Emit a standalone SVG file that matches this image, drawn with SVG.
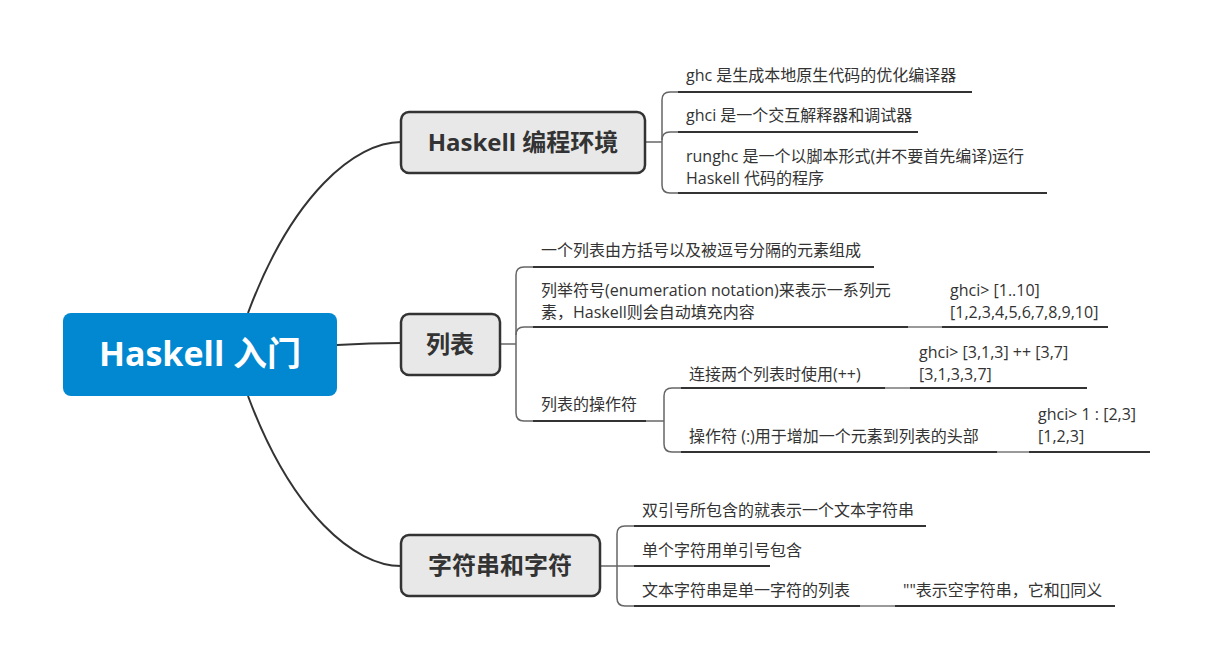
<svg xmlns="http://www.w3.org/2000/svg" width="1212" height="668" viewBox="0 0 1212 668">
<style>
.bg{fill:#ffffff}
.main{fill:#0288D1}
.mainT{font-family:"Open Sans","Noto Sans CJK SC",sans-serif;font-weight:bold;font-size:34px;fill:#ffffff;text-anchor:middle}
.box{fill:#E8E8E8;stroke:#333333;stroke-width:2.5}
.boxT{font-family:"Open Sans","Noto Sans CJK SC",sans-serif;font-weight:bold;font-size:24px;fill:#333333;text-anchor:middle}
.t{font-family:"Open Sans","Noto Sans CJK SC",sans-serif;font-size:16px;fill:#333333}
.ul{stroke:#333333;stroke-width:2;fill:none}
.c{stroke:#333333;stroke-width:2;fill:none}
.cs{stroke:#666666;stroke-width:1.5;fill:none}
.cg{stroke:#999999;stroke-width:2;fill:none}
</style>
<rect class="bg" x="0" y="0" width="1212" height="668"/>
<g id="connectors">
<path class="c" d="M 248 313 C 292 195, 355 142, 401 142"/>
<path class="c" d="M 248 396 C 292 514, 355 566, 401 566"/>
<path class="c" d="M 337 345 Q 370 343 401 343"/>
<!-- branch 1 -->
<path class="cs" d="M 645 142 L 662 142"/>
<path class="cs" d="M 678 92 L 670 92 Q 662 92 662 100 L 662 185 Q 662 193 670 193 L 678 193"/>
<path class="cs" d="M 678 132 L 670 132 Q 662 132 662 140"/>
<!-- branch 2 -->
<path class="cs" d="M 500 344 L 516 344"/>
<path class="cs" d="M 533 267 L 524 267 Q 516 267 516 275 L 516 413 Q 516 421 524 421 L 533 421"/>
<path class="cs" d="M 533 327 L 524 327 Q 516 327 516 335"/>
<path class="cs" d="M 646 421 L 664 421"/>
<path class="cs" d="M 681 388 L 672 388 Q 664 388 664 396 L 664 444 Q 664 452 672 452 L 681 452"/>
<path class="cg" d="M 908 327 L 942 327"/>
<path class="cg" d="M 885 388 L 910 388"/>
<path class="cg" d="M 997 452 L 1029 452"/>
<!-- branch 3 -->
<path class="cs" d="M 600 566 L 634 566"/>
<path class="cs" d="M 634 526 L 625 526 Q 617 526 617 534 L 617 598 Q 617 606 625 606 L 634 606"/>
<path class="cg" d="M 860 606 L 895 606"/>
</g>
<g id="root">
<rect class="main" x="63" y="313" width="274" height="83" rx="8"/>
<text class="mainT" x="200" y="366">Haskell 入门</text>
</g>
<g id="env">
<rect class="box" x="401" y="112" width="244" height="61" rx="8"/>
<text class="boxT" x="523" y="151">Haskell 编程环境</text>
</g>
<g id="env-ghc">
<text class="t" x="686" y="81">ghc 是生成本地原生代码的优化编译器</text>
<line class="ul" x1="678" y1="92" x2="972" y2="92"/>
</g>
<g id="env-ghci">
<text class="t" x="686" y="121">ghci 是一个交互解释器和调试器</text>
<line class="ul" x1="678" y1="132" x2="918" y2="132"/>
</g>
<g id="env-runghc">
<text class="t" x="686" y="162">runghc 是一个以脚本形式(并不要首先编译)运行</text>
<text class="t" x="686" y="184">Haskell 代码的程序</text>
<line class="ul" x1="678" y1="193" x2="1047" y2="193"/>
</g>
<g id="list">
<rect class="box" x="401" y="314" width="99" height="61" rx="8"/>
<text class="boxT" x="450" y="353">列表</text>
</g>
<g id="list-def">
<text class="t" x="541" y="256">一个列表由方括号以及被逗号分隔的元素组成</text>
<line class="ul" x1="533" y1="267" x2="874" y2="267"/>
</g>
<g id="list-enum">
<text class="t" x="541" y="296">列举符号(enumeration notation)来表示一系列元</text>
<text class="t" x="541" y="318">素，Haskell则会自动填充内容</text>
<line class="ul" x1="533" y1="327" x2="908" y2="327"/>
</g>
<g id="list-enum-ex">
<text class="t" x="950" y="296">ghci&gt; [1..10]</text>
<text class="t" x="950" y="318">[1,2,3,4,5,6,7,8,9,10]</text>
<line class="ul" x1="942" y1="327" x2="1108" y2="327"/>
</g>
<g id="list-ops">
<text class="t" x="541" y="410">列表的操作符</text>
<line class="ul" x1="533" y1="421" x2="646" y2="421"/>
</g>
<g id="list-ops-concat">
<text class="t" x="689" y="380">连接两个列表时使用(++)</text>
<line class="ul" x1="681" y1="388" x2="885" y2="388"/>
</g>
<g id="list-ops-concat-ex">
<text class="t" x="919" y="358">ghci&gt; [3,1,3] ++ [3,7]</text>
<text class="t" x="919" y="380">[3,1,3,3,7]</text>
<line class="ul" x1="910" y1="388" x2="1087" y2="388"/>
</g>
<g id="list-ops-cons">
<text class="t" x="689" y="442">操作符 (:)用于增加一个元素到列表的头部</text>
<line class="ul" x1="681" y1="452" x2="997" y2="452"/>
</g>
<g id="list-ops-cons-ex">
<text class="t" x="1038" y="420">ghci&gt; 1 : [2,3]</text>
<text class="t" x="1038" y="442">[1,2,3]</text>
<line class="ul" x1="1029" y1="452" x2="1150" y2="452"/>
</g>
<g id="str">
<rect class="box" x="401" y="535" width="199" height="61" rx="8"/>
<text class="boxT" x="500" y="574">字符串和字符</text>
</g>
<g id="str-double">
<text class="t" x="642" y="516">双引号所包含的就表示一个文本字符串</text>
<line class="ul" x1="634" y1="526" x2="926" y2="526"/>
</g>
<g id="str-single">
<text class="t" x="642" y="556">单个字符用单引号包含</text>
<line class="ul" x1="634" y1="566" x2="770" y2="566"/>
</g>
<g id="str-list">
<text class="t" x="642" y="596">文本字符串是单一字符的列表</text>
<line class="ul" x1="634" y1="606" x2="860" y2="606"/>
</g>
<g id="str-list-empty">
<text class="t" x="903" y="596">""表示空字符串，它和[]同义</text>
<line class="ul" x1="895" y1="606" x2="1115" y2="606"/>
</g>
</svg>
